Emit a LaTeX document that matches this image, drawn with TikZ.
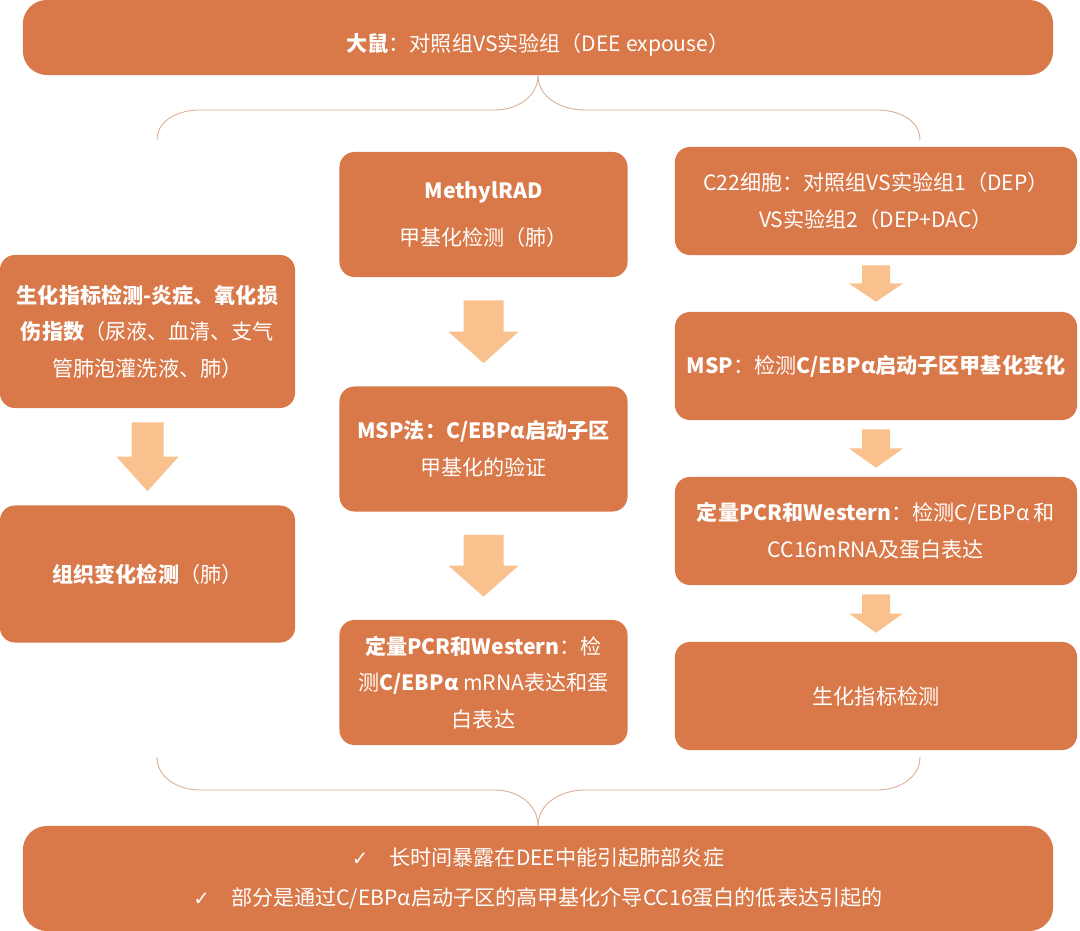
\documentclass[tikz,border=0pt]{standalone}
\usepackage{fontspec}
\newfontfamily\cjk{Noto Sans CJK SC}
\newfontfamily\symb{DejaVu Sans}
\usetikzlibrary{calc}

\definecolor{boxorange}{HTML}{D97848}
\definecolor{arrowpeach}{HTML}{F9C18D}
\definecolor{bracebrown}{HTML}{D9AB94}

% block arrow between two boxes: from, to, shaft width, head width, gap
\newcommand\blockarrow[5]{%
  \path ($(#1.south)+(0,#5)$) coordinate (ba-top)
        ($(#2.north)-(0,#5)$) coordinate (ba-bot)
        ($(ba-top)!0.5!(ba-bot)$) coordinate (ba-mid);
  \fill[arrowfill] ($(ba-top)+(-#3/2,0)$) -- ($(ba-top)+(#3/2,0)$)
    -- ($(ba-mid)+(#3/2,0)$) -- ($(ba-mid)+(#4/2,0)$) -- (ba-bot)
    -- ($(ba-mid)+(-#4/2,0)$) -- ($(ba-mid)+(-#3/2,0)$) -- cycle;
}

\begin{document}
\begin{tikzpicture}[
    x=0.025cm, y=-0.025cm,
    box/.style={rectangle, fill=boxorange, rounded corners=0.375cm, text=white,
      align=center, inner sep=0pt, font=\cjk\fontsize{15}{26}\selectfont},
    leftbox/.style={box, minimum width=7.375cm},
    midbox/.style={box, minimum width=7.2cm, minimum height=3.125cm},
    rightbox/.style={box, minimum width=10.05cm, minimum height=2.7cm},
    widebox/.style={box, minimum width=25.75cm, rounded corners=0.6cm},
    arrowfill/.style={fill=arrowpeach},
    brace/.style={draw=bracebrown, line width=0.6pt}
  ]
    \useasboundingbox (0,0) rectangle (1080,931);

    % Top
    \node[widebox, minimum height=1.875cm] (rats) at (538,37.5) {};
    \node[text=white, font=\cjk\fontsize{15}{26}\selectfont] (ratstext) at (538,45)
      {\textbf{大鼠}：对照组VS实验组（DEE expouse）};

    % Left column
    \node[leftbox, minimum height=3.825cm] (bioidx) at (147.5,331.5)
      {\textbf{生化指标检测-炎症、氧化损}\\\textbf{伤指数}（尿液、血清、支气\\管肺泡灌洗液、肺）};
    \node[leftbox, minimum height=3.425cm] (tissue) at (147.5,574)
      {\textbf{组织变化检测}（肺）};

    % Middle column
    \node[midbox] (methylrad) at (483.5,214.5)
      {\textbf{MethylRAD}\\[7pt]甲基化检测（肺）};
    \node[midbox] (msp) at (483.5,449)
      {\textbf{MSP法：C/EBPα启动子区}\\甲基化的验证};
    \node[midbox] (qpcr) at (483.5,682.5)
      {\textbf{定量PCR和Western}：检\\测\textbf{C/EBPα} mRNA表达和蛋\\白表达};

    % Right column
    \node[rightbox] (cells) at (876,201)
      {C22细胞：对照组VS实验组1（DEP）\\VS实验组2（DEP+DAC）};
    \node[rightbox] (cellmsp) at (876,366)
      {\textbf{MSP}：检测\textbf{C/EBPα启动子区甲基化变化}};
    \node[rightbox] (cellpcr) at (876,531)
      {\textbf{定量PCR和Western}：检测C/EBPα 和\\CC16mRNA及蛋白表达};
    \node[rightbox] (cellbio) at (876,696)
      {生化指标检测};

    % Bottom
    \node[widebox, minimum height=2.625cm, font=\cjk\fontsize{15}{28}\selectfont] (verdict) at (538,878.5)
      {{\symb\fontsize{14}{28}\selectfont ✓}\quad 长时间暴露在DEE中能引起肺部炎症\\
       {\symb\fontsize{14}{28}\selectfont ✓}\quad 部分是通过C/EBPα启动子区的高甲基化介导CC16蛋白的低表达引起的};

    % Arrows
    \blockarrow{bioidx}{tissue}{32}{62}{14}
    \blockarrow{methylrad}{msp}{40}{70}{23}
    \blockarrow{msp}{qpcr}{40}{70}{23}
    \blockarrow{cells}{cellmsp}{28}{54}{10}
    \blockarrow{cellmsp}{cellpcr}{28}{54}{9}
    \blockarrow{cellpcr}{cellbio}{28}{54}{9}

    % Braces
    \coordinate (topleft) at (157,140);
    \coordinate (topright) at (920,140);
    \coordinate (botleft) at (157,757);
    \coordinate (botright) at (920,757);
    \draw[brace] (rats.south) to[out=-90,in=0] (495,110) -- (200,110) to[out=180,in=90] (topleft);
    \draw[brace] (rats.south) to[out=-90,in=180] (585,110) -- (877,110) to[out=0,in=90] (topright);
    \draw[brace] (botleft) to[out=-90,in=180] (200,790) -- (495,790) to[out=0,in=90] (verdict.north);
    \draw[brace] (botright) to[out=-90,in=0] (877,790) -- (585,790) to[out=180,in=90] (verdict.north);
\end{tikzpicture}
\end{document}
